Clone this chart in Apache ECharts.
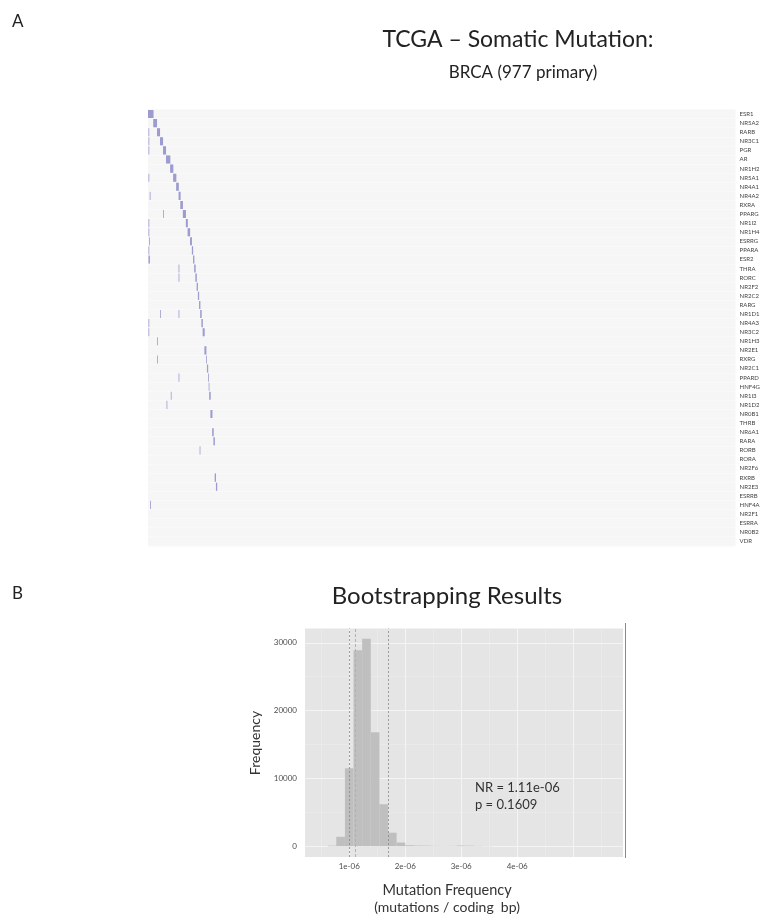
<!DOCTYPE html>
<html><head><meta charset="utf-8">
<script src="https://cdn.jsdelivr.net/npm/echarts@6/dist/echarts.min.js"></script>
<style>html,body{margin:0;padding:0;background:#fff}#c{width:763px;height:920px}</style>
</head><body><div id="c"></div>
<script>
// ---- Panel A: somatic mutation waterfall (977 primary BRCA samples) ----
const sampleCount = 977;
const genes = ['ESR1','NR5A2','RARB','NR3C1','PGR','AR','NR1H2','NR5A1','NR4A1','NR4A2','RXRA','PPARG',
  'NR1I2','NR1H4','ESRRG','PPARA','ESR2','THRA','RORC','NR2F2','NR2C2','RARG','NR1D1','NR4A3',
  'NR3C2','NR1H3','NR2E1','RXRG','NR2C1','PPARD','HNF4G','NR1I3','NR1D2','NR0B1','THRB','NR6A1',
  'RARA','RORB','RORA','NR2F6','RXRB','NR2E3','ESRRB','HNF4A','NR2F1','ESRRA','NR0B2','VDR'];
// mutated sample indices for each gene (same order as genes)
const mutatedSamples = [
  [0,1,2,3,4,5,6,7,8],
  [9,10,11,12,13,14],
  [1,15,16,17,18,19],
  [1,20,21,22,23,24],
  [1,25,26,27,28,29],
  [30,31,32,33,34,35,36],
  [37,38,39,40,41],
  [1,42,43,44,45,46],
  [47,48,49,50],
  [3,51,52,53],
  [54,55,56,57],
  [25,58,59,60,61,62],
  [1,63,64,65],
  [1,66,67,68,69],
  [2,70,71,72],
  [1,73,74],
  [1,2,75,76],
  [51,77,78],
  [51,79,80],
  [81,82],
  [83,84],
  [85,86],
  [20,51,87,88],
  [1,89,90],
  [1,91,92,93],
  [15],
  [94,95,96],
  [15,97],
  [98,99],
  [51,100],
  [101],
  [38,102,103],
  [31],
  [104,105,106],
  [],
  [107,108],
  [109,110],
  [86],
  [],
  [],
  [111,112],
  [113,114],
  [],
  [4],
  [],
  [],
  [],
  []
];

// ---- Panel B: bootstrapping histogram (x in units of 1e-6 mutations / coding bp) ----
const binStartsE6 = [0.615,0.769,0.923,1.077,1.231,1.385,1.538,1.692,1.846,2.000,2.154,2.308,2.462,2.615,2.769,2.923,3.077,3.231,3.385];
const binWidthE6 = 0.154;
const binCounts = [80,1400,11500,28900,30600,16800,6200,2000,550,150,110,90,60,40,60,110,90,50,25];
const xTickValuesE6 = [1,2,3,4];
const xMajorGridE6 = [1,2,3,4,5];
const xMinorGridE6 = [0.5,1.5,2.5,3.5,4.5,5.5];
const yTickValues = [0,10000,20000,30000];
const yMinorGrid = [5000,15000,25000];
const ciLinesE6 = [1.0,1.685];
const nrValueE6 = 1.11;
const pValue = 0.1609;

const heatData = [];
mutatedSamples.forEach((arr, g) => arr.forEach(s => heatData.push([s, g])));
const histData = binStartsE6.map((b, i) => [b, b + binWidthE6, binCounts[i]]);

const FONT = 'Lato';
const chart = echarts.init(document.getElementById('c'), null, {renderer: 'canvas', width: 763, height: 920});

const gridLines = [];
xMajorGridE6.forEach(v => gridLines.push({xAxis: v, lineStyle: {color: '#f4f4f4', width: 1, type: 'solid'}}));
xMinorGridE6.forEach(v => gridLines.push({xAxis: v, lineStyle: {color: '#ececec', width: 0.7, type: 'solid'}}));
yTickValues.forEach(v => gridLines.push({yAxis: v, lineStyle: {color: '#f4f4f4', width: 1, type: 'solid'}}));
yMinorGrid.forEach(v => gridLines.push({yAxis: v, lineStyle: {color: '#ececec', width: 0.7, type: 'solid'}}));

const refLines = ciLinesE6.map(v => ({xAxis: v, lineStyle: {color: '#888888', width: 0.8, type: [2, 2]}}));
refLines.push({xAxis: nrValueE6, lineStyle: {color: '#e89a9a', width: 1, type: [3, 2]}});

chart.setOption({
  animation: false,
  backgroundColor: '#ffffff',
  grid: [
    {left: 148, top: 109.5, width: 597, height: 436.3, show: true, backgroundColor: '#f6f6f6', borderWidth: 0, z: 0},
    {left: 305, top: 628.5, width: 318, height: 228.5, show: true, backgroundColor: '#e5e5e5', borderWidth: 0, z: 0}
  ],
  xAxis: [
    {gridIndex: 0, type: 'value', min: 0, max: sampleCount, show: false},
    {gridIndex: 1, type: 'value', min: 0.21, max: 5.89,
      axisLine: {show: false}, axisTick: {show: false}, splitLine: {show: false},
      axisLabel: {customValues: xTickValuesE6, formatter: v => v + 'e-06', fontSize: 8, color: '#4d4d4d', margin: 5, fontFamily: FONT}}
  ],
  yAxis: [
    {gridIndex: 0, type: 'category', data: genes, inverse: true, position: 'right',
      axisLine: {show: false}, axisTick: {show: false},
      axisLabel: {fontSize: 6, color: '#444', margin: 4, interval: 0, fontFamily: FONT},
      splitLine: {show: true, interval: 0, lineStyle: {color: '#fafafa', width: 0.8}}},
    {gridIndex: 1, type: 'value', min: -1580, max: 32110,
      axisLine: {show: false}, axisTick: {show: false}, splitLine: {show: false},
      axisLabel: {customValues: yTickValues, formatter: v => String(v), fontSize: 8, color: '#4d4d4d', margin: 8, fontFamily: FONT}}
  ],
  series: [
    {
      type: 'custom', xAxisIndex: 0, yAxisIndex: 0, data: heatData, encode: {x: 0, y: 1}, z: 2,
      renderItem: (params, api) => {
        const s = api.value(0), g = api.value(1);
        const p0 = api.coord([s, g]);
        const p1 = api.coord([s + 1, g]);
        const h = api.size([0, 1])[1];
        return {type: 'rect', shape: {x: p0[0], y: p0[1] - h / 2 + 0.5, width: p1[0] - p0[0], height: h - 1},
          style: {fill: '#7f7fc4'}};
      }
    },
    {
      type: 'line', xAxisIndex: 1, yAxisIndex: 1, data: [], z: 1,
      markLine: {silent: true, symbol: 'none', z: 1, label: {show: false}, animation: false, data: gridLines}
    },
    {
      type: 'custom', xAxisIndex: 1, yAxisIndex: 1, data: histData, encode: {x: [0, 1], y: 2}, z: 3,
      renderItem: (params, api) => {
        const a = api.coord([api.value(0), api.value(2)]);
        const b = api.coord([api.value(1), 0]);
        return {type: 'rect', shape: {x: a[0], y: a[1], width: b[0] - a[0], height: b[1] - a[1]},
          style: {fill: '#bfbfbf'}};
      },
      markLine: {silent: true, symbol: 'none', z: 5, label: {show: false}, animation: false, data: refLines}
    }
  ],
  graphic: [
    {type: 'text', z: 100, x: 12, y: 22, style: {text: 'A', fontSize: 17, fontFamily: FONT, fill: '#222', align: 'left', verticalAlign: 'middle'}},
    {type: 'text', z: 100, x: 518, y: 40, style: {text: 'TCGA \u2013 Somatic Mutation:', fontSize: 23, fontFamily: FONT, fill: '#222', align: 'center', verticalAlign: 'middle'}},
    {type: 'text', z: 100, x: 523, y: 73, style: {text: 'BRCA (977 primary)', fontSize: 17, fontFamily: FONT, fill: '#222', align: 'center', verticalAlign: 'middle'}},
    {type: 'text', z: 100, x: 12, y: 594, style: {text: 'B', fontSize: 17, fontFamily: FONT, fill: '#222', align: 'left', verticalAlign: 'middle'}},
    {type: 'text', z: 100, x: 447, y: 596, style: {text: 'Bootstrapping Results', fontSize: 24, fontFamily: FONT, fill: '#222', align: 'center', verticalAlign: 'middle'}},
    {type: 'text', z: 100, x: 255, y: 743, rotation: Math.PI / 2, style: {text: 'Frequency', fontSize: 14, fontFamily: FONT, fill: '#333', align: 'center', verticalAlign: 'middle'}},
    {type: 'text', z: 100, x: 447, y: 890, style: {text: 'Mutation Frequency', fontSize: 14.5, fontFamily: FONT, fill: '#333', align: 'center', verticalAlign: 'middle'}},
    {type: 'text', z: 100, x: 447, y: 907, style: {text: '(mutations / coding  bp)', fontSize: 14, fontFamily: FONT, fill: '#333', align: 'center', verticalAlign: 'middle'}},
    {type: 'text', z: 100, x: 475, y: 788, style: {text: 'NR = ' + nrValueE6.toFixed(2) + 'e-06', fontSize: 13, fontFamily: FONT, fill: '#333', align: 'left', verticalAlign: 'middle'}},
    {type: 'text', z: 100, x: 475, y: 805, style: {text: 'p = ' + pValue.toFixed(4), fontSize: 13, fontFamily: FONT, fill: '#333', align: 'left', verticalAlign: 'middle'}},
    {type: 'line', z: 100, shape: {x1: 625.5, y1: 623, x2: 625.5, y2: 858}, style: {stroke: '#8a8a8a', lineWidth: 1}}
  ]
});
</script>
</body></html>
